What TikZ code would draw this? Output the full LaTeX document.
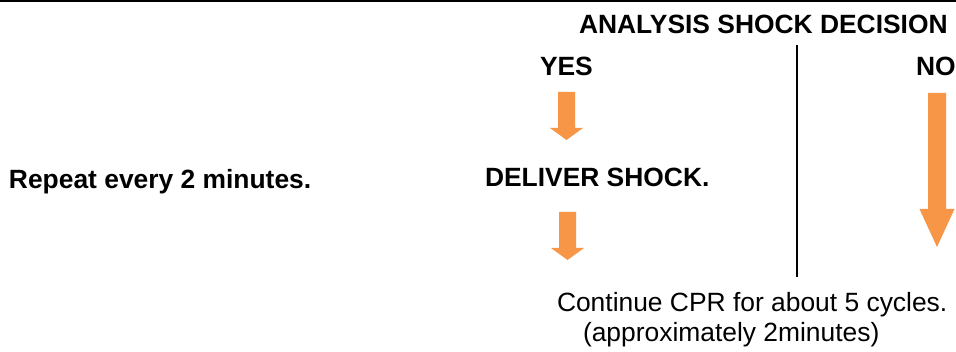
\documentclass[tikz,border=0pt]{standalone}
\usepackage{fontspec}
\setmainfont{Liberation Sans}
\definecolor{arroworange}{HTML}{F79646}
\tikzset{
  lbl/.style={anchor=base west, inner sep=0pt, outer sep=0pt, font=\fontsize{26.4}{30}\selectfont},
  blbl/.style={lbl, font=\fontsize{26.4}{30}\selectfont\bfseries},
  blockarrow/.style={fill=arroworange, draw=none},
  rule/.style={draw=black, line width=2.4pt},
  divider/.style={draw=black, line width=1.3pt}
}
\begin{document}
\begin{tikzpicture}[x=1pt, y=-1pt]
\useasboundingbox (0,0) rectangle (956,352);
\fill[white] (0,0) rectangle (956,352);
% top rule
\coordinate (ruleL) at (0,1.2);
\coordinate (ruleR) at (956,1.2);
\draw[rule] (ruleL) -- (ruleR);
% texts
\node[blbl] (title) at (579,34) {ANALYSIS SHOCK DECISION};
\node[blbl] (yes) at (540,76) {YES};
\node[blbl] (no) at (916,76) {NO};
\node[blbl] (deliver) at (485,187) {DELIVER SHOCK.};
\node[blbl] (repeat) at (9,189) {Repeat every 2 minutes.};
\node[lbl] (cont) at (557,311.5) {Continue CPR for about 5 cycles.};
\node[lbl] (approx) at (583,342) {(approximately 2minutes)};
% divider
\coordinate (divT) at (797,45);
\coordinate (divB) at (797,277);
\draw[divider] (divT) -- (divB);
% YES arrow 1
\fill[blockarrow] (558,92) -- (575,92) -- (575,128) -- (583,128) -- (566.5,140) -- (550,128) -- (558,128) -- cycle;
% YES arrow 2
\fill[blockarrow] (559,212) -- (576,212) -- (576,248) -- (584,248) -- (567.5,260) -- (551,248) -- (559,248) -- cycle;
% NO arrow
\fill[blockarrow] (928,93) -- (946,93) -- (946,209) -- (954.5,209) -- (937,247) -- (919.5,209) -- (928,209) -- cycle;
\end{tikzpicture}
\end{document}
